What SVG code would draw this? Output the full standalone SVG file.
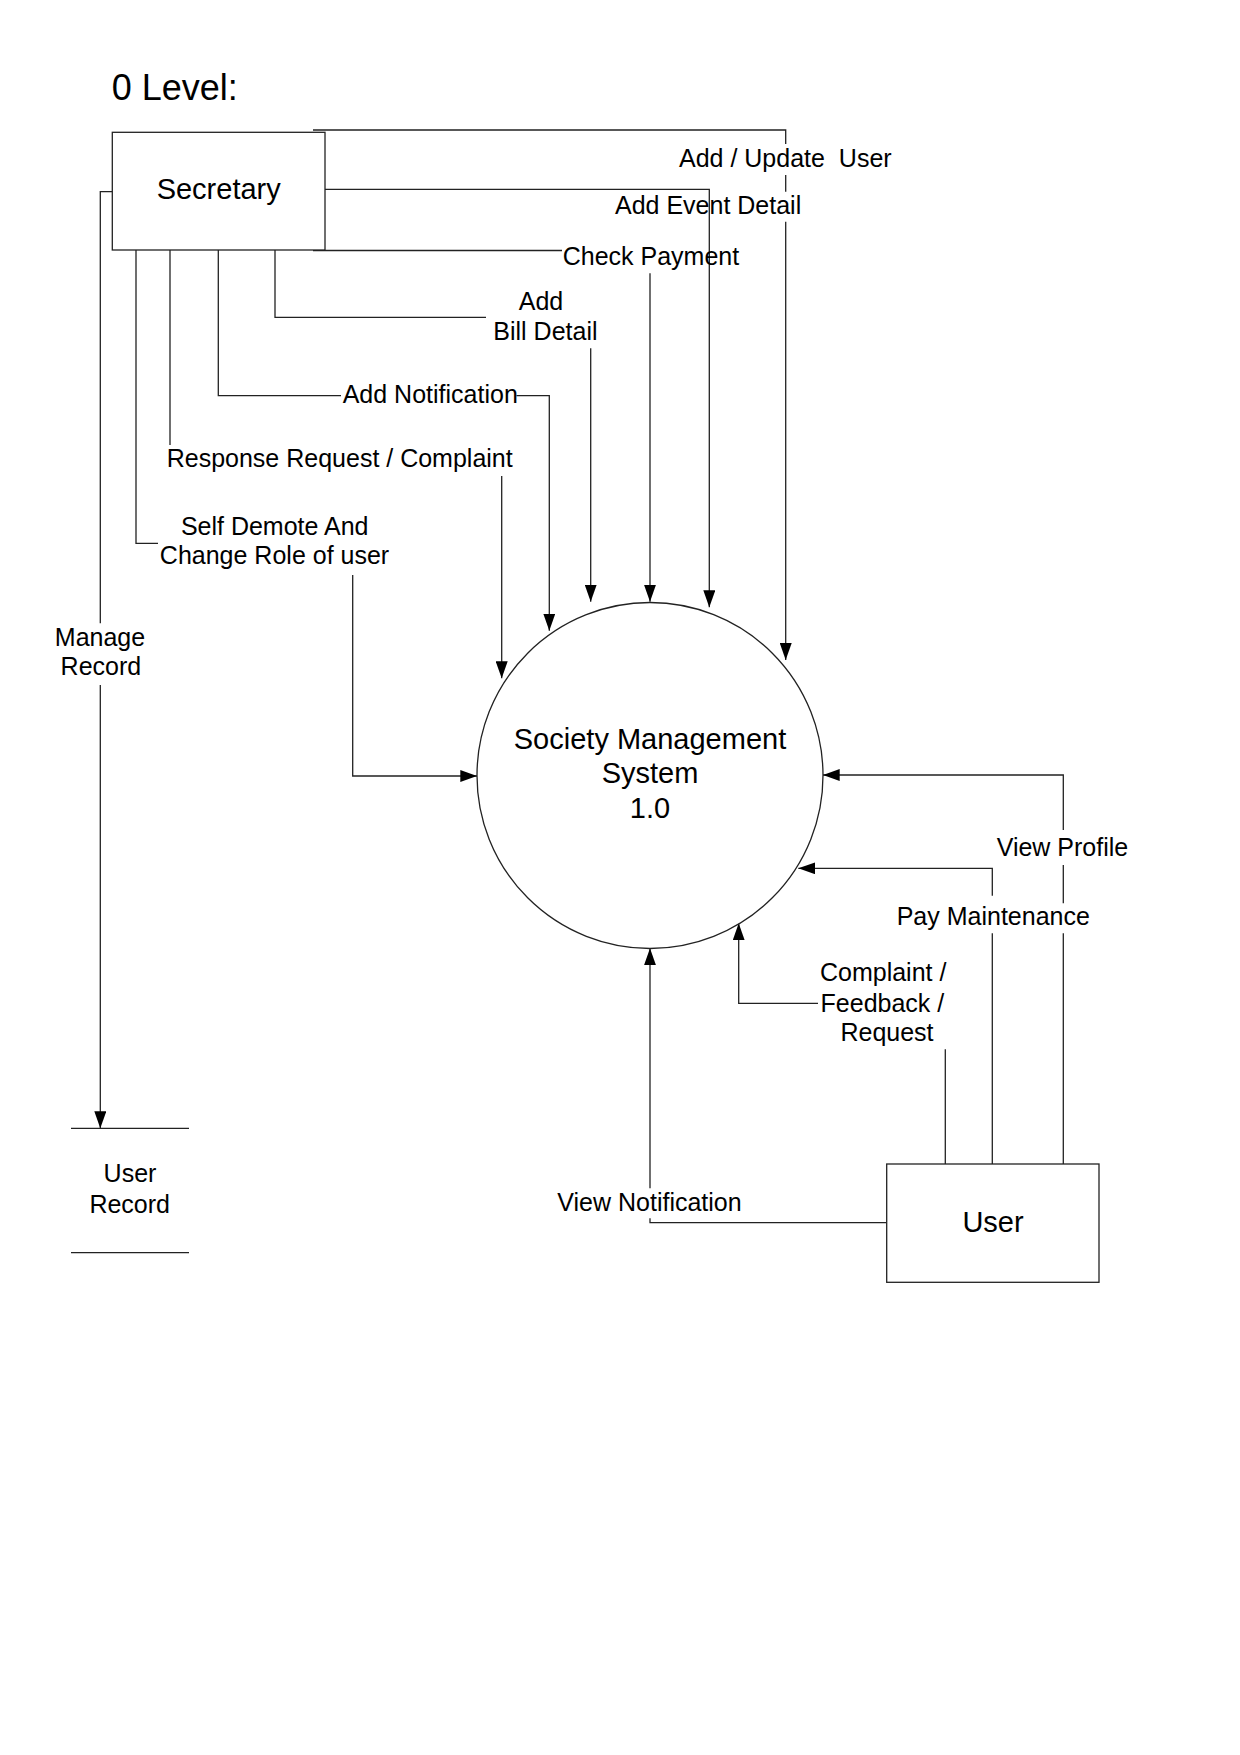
<svg xmlns="http://www.w3.org/2000/svg" width="1240" height="1755" viewBox="0 0 1240 1755">
  <defs>
    <marker id="arrow" markerUnits="userSpaceOnUse" markerWidth="17" markerHeight="12" refX="17" refY="6" orient="auto">
      <path d="M0,0 L17,6 L0,12 z" fill="#000"/>
    </marker>
    <style>
      .shape { fill: #fff; stroke: #222; stroke-width: 1.3; }
      .line { fill: none; stroke: #222; stroke-width: 1.3; }
      .arr { fill: none; stroke: #222; stroke-width: 1.3; marker-end: url(#arrow); }
      text { font-family: "Liberation Sans", Arial, sans-serif; fill: #000; white-space: pre; }
      .lbl { font-size: 25px; }
      .ent { font-size: 29px; }
      .mid { text-anchor: middle; }
      .title { font-size: 36px; }
    </style>
  </defs>
  <rect width="1240" height="1755" fill="#fff"/>

  <text class="title" x="111.7" y="100">0 Level:</text>

  <g id="connectors">
    <!-- Add / Update User -->
    <path class="line" d="M313,130 H785.7 V144"/>
    <path class="line" d="M785.7,175 V191.7"/>
    <path class="arr" d="M785.7,221.7 V660"/>
    <!-- Add Event Detail -->
    <path class="arr" d="M325,189.3 H709.3 V607.3"/>
    <!-- Check Payment -->
    <path class="line" d="M313,250.5 H562"/>
    <path class="arr" d="M650,273.3 V601.7"/>
    <!-- Add Bill Detail -->
    <path class="line" d="M275,250 V317.3 H486"/>
    <path class="arr" d="M590.7,348.3 V601.7"/>
    <!-- Add Notification -->
    <path class="line" d="M218.3,250 V395.7 H341"/>
    <path class="arr" d="M516.5,395.7 H549.3 V630.7"/>
    <!-- Response Request / Complaint -->
    <path class="line" d="M170,250 V445"/>
    <path class="arr" d="M501.7,476 V678.3"/>
    <!-- Self Demote -->
    <path class="line" d="M136,250 V543.3 H158"/>
    <path class="arr" d="M352.7,575 V776 H477.3"/>
    <!-- Manage Record -->
    <path class="line" d="M112.3,191.7 H100.3 V623.3"/>
    <path class="arr" d="M100.3,685 V1128.3"/>
    <!-- View Profile -->
    <path class="line" d="M1063.3,1164 V933.3"/>
    <path class="line" d="M1063.3,903.3 V865"/>
    <path class="arr" d="M1063.3,830 V775 H822.7"/>
    <!-- Pay Maintenance -->
    <path class="line" d="M992.3,1164 V933.3"/>
    <path class="arr" d="M992.3,895.7 V868.3 H798.3"/>
    <!-- Complaint / Feedback / Request -->
    <path class="line" d="M945.3,1164 V1049.3"/>
    <path class="arr" d="M818,1003.3 H738.7 V923.3"/>
    <!-- View Notification -->
    <path class="line" d="M886.7,1222.7 H650 V1218.3"/>
    <path class="arr" d="M650,1188.3 V948.3"/>
  </g>

  <g id="labels">
    <text class="lbl" x="679" y="166.7">Add / Update  User</text>
    <text class="lbl" x="615" y="214.3">Add Event Detail</text>
    <text class="lbl" x="562.7" y="265">Check Payment</text>
    <text class="lbl mid" x="541" y="310">Add</text>
    <text class="lbl mid" x="545.4" y="340">Bill Detail</text>
    <text class="lbl" x="342.7" y="403.3">Add Notification</text>
    <text class="lbl" x="166.7" y="467.3">Response Request / Complaint</text>
    <text class="lbl mid" x="274.7" y="535">Self Demote And</text>
    <text class="lbl mid" x="274.5" y="564">Change Role of user</text>
    <text class="lbl mid" x="100" y="645.7">Manage</text>
    <text class="lbl mid" x="100.9" y="675">Record</text>
    <text class="lbl" x="996.7" y="856">View Profile</text>
    <text class="lbl" x="896.7" y="925">Pay Maintenance</text>
    <text class="lbl mid" x="883.2" y="980.7">Complaint /</text>
    <text class="lbl mid" x="882.4" y="1011.7">Feedback /</text>
    <text class="lbl mid" x="887" y="1040.7">Request</text>
    <text class="lbl" x="557.3" y="1211">View Notification</text>
  </g>

  <g id="secretary">
    <rect class="shape" x="112.3" y="132.3" width="212.7" height="117.7"/>
    <text class="ent mid" x="218.7" y="199">Secretary</text>
  </g>

  <g id="system">
    <circle class="shape" cx="650" cy="775.5" r="173"/>
    <text class="ent mid" x="650" y="749.3">Society Management</text>
    <text class="ent mid" x="650" y="783.3">System</text>
    <text class="ent mid" x="650" y="818.3">1.0</text>
  </g>

  <g id="user">
    <rect class="shape" x="886.7" y="1164" width="212.3" height="118.3"/>
    <text class="ent mid" x="993" y="1231.7">User</text>
  </g>

  <g id="user-record">
    <path class="line" d="M71,1128.3 H189 M71,1252.7 H189"/>
    <text class="lbl mid" x="130" y="1181.7">User</text>
    <text class="lbl mid" x="129.7" y="1212.7">Record</text>
  </g>
</svg>
